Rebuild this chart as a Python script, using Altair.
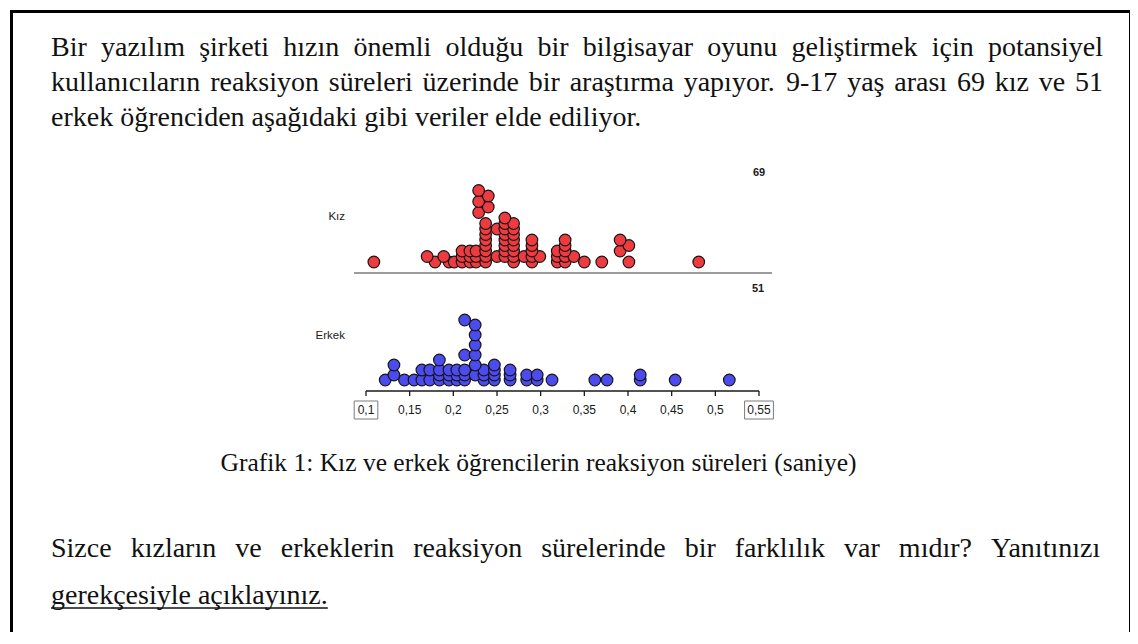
import altair as alt
import pandas as pd

# ---------------- data ----------------
PARAGRAPH = [
    "Bir yazılım şirketi hızın önemli olduğu bir bilgisayar oyunu geliştirmek için potansiyel",
    "kullanıcıların reaksiyon süreleri üzerinde bir araştırma yapıyor. 9-17 yaş arası 69 kız ve 51",
    "erkek öğrenciden aşağıdaki gibi veriler elde ediliyor.",
]
PARAGRAPH_JUSTIFIED = [True, True, False]
CAPTION = "Grafik 1: Kız ve erkek öğrencilerin reaksiyon süreleri (saniye)"
QUESTION = [
    "Sizce kızların ve erkeklerin reaksiyon sürelerinde bir farklılık var mıdır? Yanıtınızı",
    "gerekçesiyle açıklayınız.",
]
QUESTION_JUSTIFIED = [True, False]

GROUP_NAMES = ["Kız", "Erkek"]
GROUP_COUNTS = ["69", "51"]
TICK_VALUES = [0.1, 0.15, 0.2, 0.25, 0.3, 0.35, 0.4, 0.45, 0.5, 0.55]
TICK_LABELS = ["0,1", "0,15", "0,2", "0,25", "0,3", "0,35", "0,4", "0,45", "0,5", "0,55"]
BOXED_LABELS = ["0,1", "0,55"]

# reaction times (s) and the stacking level of each dot in that column
KIZ_TIMES = [0.109, 0.170, 0.179, 0.189, 0.195, 0.201, 0.210, 0.219, 0.226, 0.229,
             0.237, 0.240, 0.250, 0.259, 0.269, 0.281, 0.290, 0.299, 0.319, 0.328,
             0.338, 0.350, 0.370, 0.391, 0.401, 0.481]
KIZ_STACKS = [[0], [1], [0], [1], [0], [0], [0, 1, 2], [0, 1, 2], [0, 1, 2], [9, 11, 13],
              [0, 1, 2, 3, 4, 5, 6, 7], [10, 12], [1, 6], [1, 2, 3, 4, 5, 6, 7, 8],
              [0, 1, 2, 3, 4, 5, 6, 7], [1], [0, 1, 2, 3, 4], [1], [0, 1, 2], [0, 1, 2, 3, 4],
              [1], [0], [0], [2, 4], [0, 3], [0]]
ERKEK_TIMES = [0.122, 0.132, 0.144, 0.155, 0.164, 0.173, 0.184, 0.195, 0.204, 0.213,
               0.225, 0.235, 0.247, 0.265, 0.284, 0.296, 0.313, 0.362, 0.376, 0.414,
               0.454, 0.516]
ERKEK_STACKS = [[0], [1, 3], [0], [0], [0, 2], [0, 2], [0, 1, 2, 4], [0, 1, 2], [0, 1, 2],
                [0, 1, 2, 5, 12], [1, 3, 5, 7, 9, 11], [0, 1, 2], [0, 1, 2, 3], [0, 1, 2],
                [0, 1], [0, 1], [0], [0], [0], [0, 1], [0], [0]]

# ---------------- layout ----------------
W, H = 1122, 624
X_LEFT, X_RIGHT = 41, 1093
PARA_BASE = [48, 83, 118]
Q_BASE = [549, 596]
BODY_FS = 28
CAPTION_FS = 25.5
CAPTION_CX, CAPTION_Y = 528.5, 463

# dot plot x scale anchored so 0.1 -> 356 px and 0.55 -> 749 px
PX_A, PX_B = 356.0, 749.0
PPU = (PX_B - PX_A) / (0.55 - 0.1)
D0 = 0.1 - PX_A / PPU
D1 = D0 + W / PPU

KIZ_BASE, KIZ_STEP = 254.0, 5.5
ERK_BASE, ERK_STEP = 372.0, 5.0
KIZ_LINE_Y = 265
ERK_AXIS_Y = 383

TIMES_W = {' ': 250, 'a': 444, 'b': 500, 'c': 444, 'd': 500, 'e': 444, 'f': 333, 'g': 500,
           'h': 500, 'i': 278, 'j': 278, 'k': 500, 'l': 278, 'm': 778, 'n': 500, 'o': 500,
           'p': 500, 'q': 500, 'r': 333, 's': 389, 't': 278, 'u': 500, 'v': 500, 'w': 722,
           'x': 500, 'y': 500, 'z': 444, 'ı': 278, 'ş': 389, 'ğ': 500, 'ü': 500, 'ö': 500,
           'ç': 444, '.': 250, ',': 250, '-': 333, ':': 278, '?': 444, '(': 333, ')': 333,
           'B': 667, 'S': 556, 'Y': 722, 'G': 722, 'K': 722}


def text_width(s, fs):
    return sum(TIMES_W.get(ch, 500) for ch in s) * fs / 1000.0


def place_line(line, y, fs, justified, x0=X_LEFT, x1=X_RIGHT):
    words = line.split()
    widths = [text_width(w, fs) for w in words]
    if justified and len(words) > 1:
        gap = (x1 - x0 - sum(widths)) / (len(words) - 1)
    else:
        gap = TIMES_W[' '] * fs / 1000.0
    rows, x = [], x0
    for w, wd in zip(words, widths):
        rows.append({"px": x, "py": y, "txt": w, "fs": fs})
        x += wd + gap
    return rows, x - gap


rows = []
for line, y, j in zip(PARAGRAPH, PARA_BASE, PARAGRAPH_JUSTIFIED):
    r, _ = place_line(line, y, BODY_FS, j)
    rows += r
cap_w = text_width(CAPTION, CAPTION_FS)
r, _ = place_line(CAPTION, CAPTION_Y, CAPTION_FS, False, x0=CAPTION_CX - cap_w / 2)
rows += r
underline_end = X_LEFT
for line, y, j in zip(QUESTION, Q_BASE, QUESTION_JUSTIFIED):
    r, end = place_line(line, y, BODY_FS, j)
    rows += r
    underline_end = end
text_df = pd.DataFrame(rows)

px_scale = alt.Scale(domain=[0, W], range=[0, W], nice=False, zero=False)
py_scale = alt.Scale(domain=[0, H], range=[0, H], nice=False, zero=False)
val_scale = alt.Scale(domain=[D0, D1], range=[0, W], nice=False, zero=False)

text_layer = alt.Chart(text_df).mark_text(
    align="left", baseline="alphabetic", font="Liberation Serif", color="#111111"
).encode(
    x=alt.X("px:Q", scale=px_scale, axis=None),
    y=alt.Y("py:Q", scale=py_scale, axis=None),
    text="txt:N",
    size=alt.Size("fs:Q", scale=None, legend=None),
)

underline = alt.Chart(pd.DataFrame({"a": [X_LEFT], "b": [underline_end]})).mark_rule(
    color="#111111", strokeWidth=1.3
).encode(
    x=alt.X("a:Q", scale=px_scale, axis=None), x2="b:Q", y=alt.value(Q_BASE[1] + 4)
)


def dots_df(times, stacks):
    out = []
    for t, st in zip(times, stacks):
        for lv in st:
            out.append({"t": t, "lvl": lv})
    return pd.DataFrame(out)


def dot_layer(df, base, step, fill):
    return alt.Chart(df).mark_circle(
        size=135, fill=fill, stroke="#161616", strokeWidth=1.2, opacity=1
    ).encode(
        x=alt.X("t:Q", scale=val_scale, axis=None),
        y=alt.Y("lvl:Q", scale=alt.Scale(domain=[0, 20], range=[base, base - 20 * step],
                                         nice=False, zero=False), axis=None),
        order=alt.Order("lvl:Q"),
    )


kiz_dots = dot_layer(dots_df(KIZ_TIMES, KIZ_STACKS), KIZ_BASE, KIZ_STEP, "#ef3a40")
erk_dots = dot_layer(dots_df(ERKEK_TIMES, ERKEK_STACKS), ERK_BASE, ERK_STEP, "#4b4bf0")

kiz_line = alt.Chart(pd.DataFrame({"a": [0.0863], "b": [0.5649]})).mark_rule(
    color="#9c9c9c", strokeWidth=2
).encode(x=alt.X("a:Q", scale=val_scale, axis=None), x2="b:Q", y=alt.value(KIZ_LINE_Y))

erk_axis = alt.Chart(pd.DataFrame({"a": [TICK_VALUES[0]], "b": [TICK_VALUES[-1]]})).mark_rule(
    color="#1a1a1a", strokeWidth=1.6
).encode(x=alt.X("a:Q", scale=val_scale, axis=None), x2="b:Q", y=alt.value(ERK_AXIS_Y))

tick_df = pd.DataFrame({"t": TICK_VALUES, "lab": TICK_LABELS})
ticks = alt.Chart(tick_df).mark_rule(color="#1a1a1a", strokeWidth=1.3).encode(
    x=alt.X("t:Q", scale=val_scale, axis=None),
    y=alt.value(ERK_AXIS_Y), y2=alt.value(ERK_AXIS_Y + 5),
)
tick_labels = alt.Chart(tick_df).mark_text(
    align="center", baseline="alphabetic", font="Liberation Sans", fontSize=12, color="#1a1a1a"
).encode(x=alt.X("t:Q", scale=val_scale, axis=None), y=alt.value(ERK_AXIS_Y + 23), text="lab:N")

box_rows = []
for lab in BOXED_LABELS:
    t = TICK_VALUES[TICK_LABELS.index(lab)]
    half = (len(lab) * 2.6 + 4) / PPU
    box_rows.append({"a": t - half, "b": t + half})
boxes = alt.Chart(pd.DataFrame(box_rows)).mark_rect(
    filled=False, stroke="#7a7a7a", strokeWidth=1
).encode(
    x=alt.X("a:Q", scale=val_scale, axis=None), x2="b:Q",
    y=alt.value(ERK_AXIS_Y + 10), y2=alt.value(ERK_AXIS_Y + 28),
)

name_df = pd.DataFrame({"px": [335, 335], "py": [212, 331], "txt": GROUP_NAMES})
names = alt.Chart(name_df).mark_text(
    align="right", baseline="alphabetic", font="Liberation Sans", fontSize=11.5, color="#1a1a1a"
).encode(
    x=alt.X("px:Q", scale=px_scale, axis=None),
    y=alt.Y("py:Q", scale=py_scale, axis=None), text="txt:N",
)
count_df = pd.DataFrame({"px": [749, 748], "py": [168, 284], "txt": GROUP_COUNTS})
counts = alt.Chart(count_df).mark_text(
    align="center", baseline="alphabetic", font="Liberation Sans", fontSize=11,
    fontWeight="bold", color="#1a1a1a"
).encode(
    x=alt.X("px:Q", scale=px_scale, axis=None),
    y=alt.Y("py:Q", scale=py_scale, axis=None), text="txt:N",
)

border_top = alt.Chart().mark_rule(color="#000000", strokeWidth=3).encode(
    x=alt.value(0), x2=alt.value(W), y=alt.value(3.5))
border_left = alt.Chart().mark_rule(color="#000000", strokeWidth=3).encode(
    x=alt.value(1.5), y=alt.value(2), y2=alt.value(H))
border_right = alt.Chart().mark_rule(color="#000000", strokeWidth=3).encode(
    x=alt.value(W - 1.5), y=alt.value(2), y2=alt.value(H))

chart = alt.layer(
    border_top, border_left, border_right,
    text_layer, underline,
    kiz_line, erk_axis, ticks, boxes, tick_labels,
    kiz_dots, erk_dots, names, counts,
).resolve_scale(
    x="independent", y="independent"
).properties(
    width=W, height=H, padding=0,
    autosize=alt.AutoSizeParams(type="fit", contains="padding"),
    background="white",
).configure_view(stroke=None)

chart.save("out.html", embed_options={"renderer": "svg", "actions": False})
